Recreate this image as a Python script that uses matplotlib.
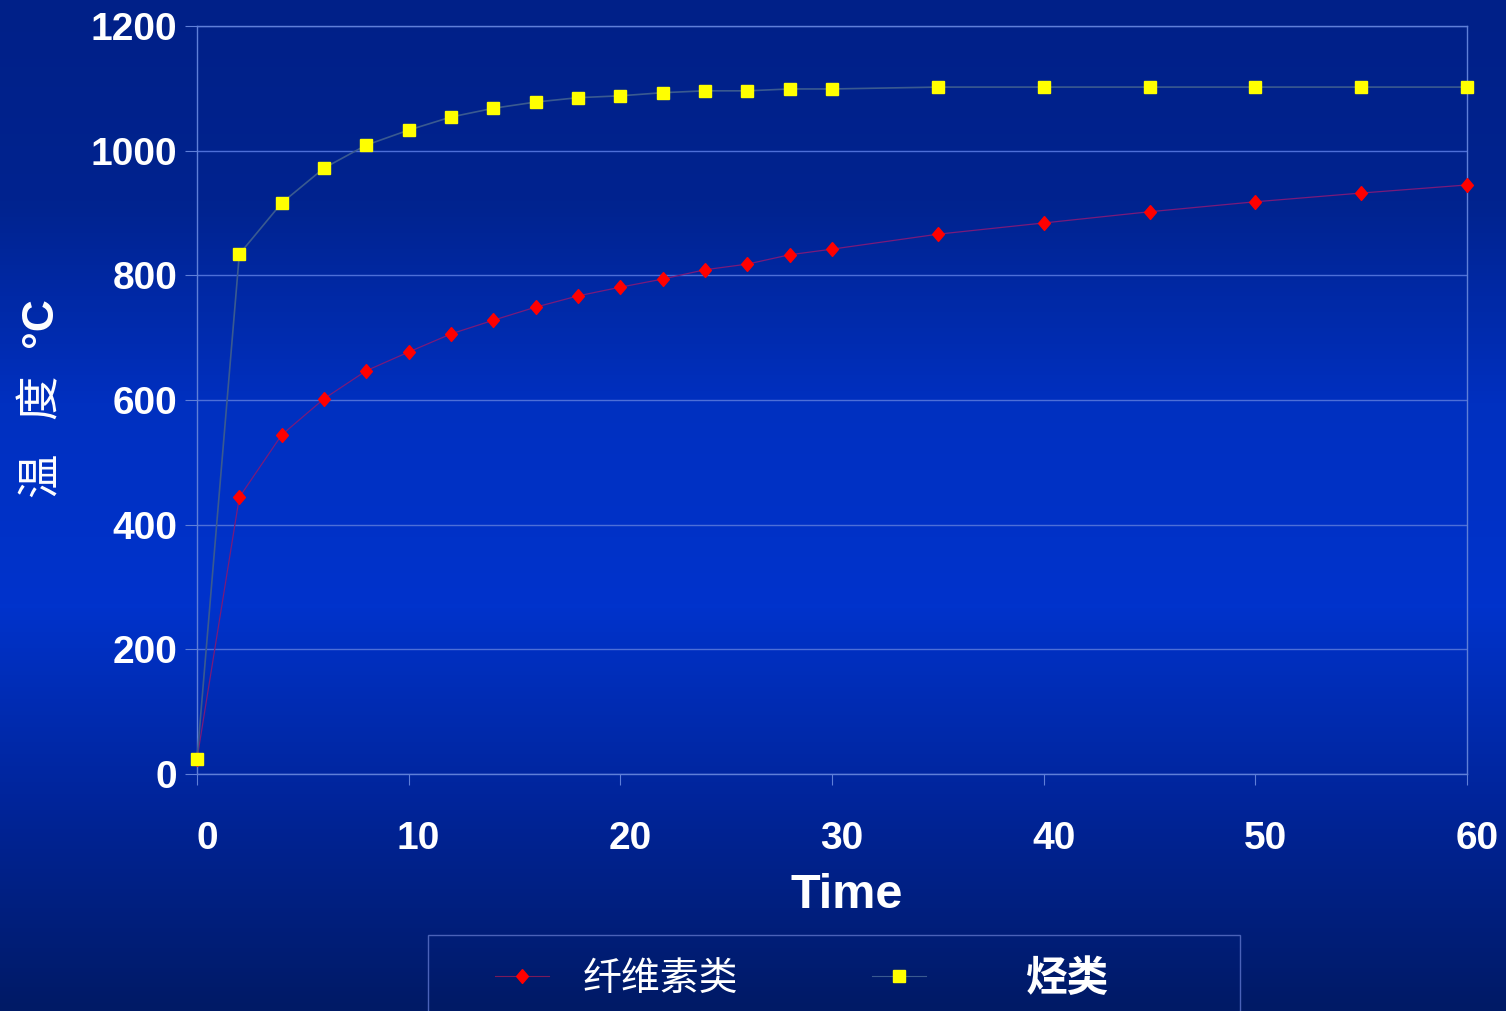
import matplotlib
matplotlib.use('Agg')
import matplotlib.pyplot as plt
import matplotlib.transforms as mtransforms
import numpy as np
from matplotlib.colors import LinearSegmentedColormap
from matplotlib.lines import Line2D
from matplotlib.patches import Rectangle

plt.rcParams['font.family'] = ['Liberation Sans', 'Noto Sans CJK SC', 'DejaVu Sans']

# 数据
time = [0, 2, 4, 6, 8, 10, 12, 14, 16, 18, 20, 22, 24, 26, 28, 30, 35, 40, 45, 50, 55, 60]
cellulose = [24, 444, 544, 602, 647, 677, 706, 728, 749, 767, 781, 794, 809, 818, 833, 842,
             866, 884, 902, 918, 932, 945]
hydrocarbon = [24, 834, 916, 972, 1009, 1033, 1054, 1068, 1078, 1085, 1088, 1093, 1096, 1096,
               1099, 1099, 1102, 1102, 1102, 1102, 1102, 1102]
labels = ['纤维素类', '烃类']
xticks = [0, 10, 20, 30, 40, 50, 60]
yticks = [0, 200, 400, 600, 800, 1000, 1200]

W, H = 1506, 1011
fig = plt.figure(figsize=(W / 100, H / 100), dpi=100)

# 背景渐变
bg = fig.add_axes([0, 0, 1, 1], zorder=-10)
cmap = LinearSegmentedColormap.from_list('bg', ['#001a66', '#002498', '#0033cc', '#0030c0', '#00238f', '#002088'])
grad = np.linspace(0, 1, 256).reshape(-1, 1)
bg.imshow(grad, aspect='auto', cmap=cmap, extent=[0, 1, 0, 1], origin='lower')
bg.axis('off')

ax = fig.add_axes([197 / W, 1 - 774 / H, 1270 / W, 748 / H])
ax.patch.set_alpha(0)

diamond = [(0, 1), (0.85, 0), (0, -1), (-0.85, 0), (0, 1)]
ax.plot(time, cellulose, color='#7a1a7a', linewidth=0.9, marker=diamond, markersize=10,
        markerfacecolor='red', markeredgecolor='red', zorder=3, clip_on=False)
ax.plot(time, hydrocarbon, color='#3a5a90', linewidth=1.2, marker='s', markersize=8,
        markerfacecolor='yellow', markeredgecolor='yellow', zorder=4, clip_on=False)

ax.set_xlim(0, 60)
ax.set_ylim(0, 1200)
ax.set_xticks(xticks)
ax.set_yticks(yticks)
ax.grid(axis='y', color='#4d6fd8', linewidth=1)
for s in ax.spines.values():
    s.set_color('#5f7fd8')
    s.set_linewidth(1)

ax.tick_params(axis='x', colors='#5f7fd8', length=8, direction='out', pad=26)
ax.tick_params(axis='y', colors='#5f7fd8', length=9, direction='out', pad=5)
for lab in ax.get_xticklabels() + ax.get_yticklabels():
    lab.set_color('white')
    lab.set_fontsize(28)
    lab.set_fontweight('bold')

# x刻度标签稍向右偏
offset = mtransforms.ScaledTranslation(10 / 100, 0, fig.dpi_scale_trans)
for lab in ax.get_xticklabels():
    lab.set_transform(lab.get_transform() + offset)

fig.text(847 / W, 1 - 896 / H, 'Time', color='white', fontsize=35, fontweight='bold',
         ha='center', va='center')

# y轴标题
cjk = ['Noto Sans CJK SC', 'DejaVu Sans']
fig.text(40 / W, 1 - 475 / H, '温', rotation=90, color='white', fontsize=32,
         ha='center', va='center', family=cjk)
fig.text(40 / W, 1 - 397 / H, '度', rotation=90, color='white', fontsize=32,
         ha='center', va='center', family=cjk)
fig.text(40 / W, 1 - 322 / H, '°C', rotation=90, color='white', fontsize=32,
         fontweight='bold', ha='center', va='center')

# 图例
frame = Rectangle((428 / W, -0.05), 812 / W, 0.05 + (1 - 935 / H), transform=fig.transFigure,
                  facecolor='none', edgecolor='#4a62b8', linewidth=1)
fig.patches.append(frame)

h1 = Line2D([], [], color='#7a1a5a', linewidth=0.8, marker=diamond, markersize=10,
            markerfacecolor='red', markeredgecolor='red')
h2 = Line2D([], [], color='#3a5a90', linewidth=0.8, marker='s', markersize=8,
            markerfacecolor='yellow', markeredgecolor='yellow')
leg1 = fig.legend([h1], [labels[0]], loc='center left', bbox_to_anchor=(495 / W, 1 - 979 / H),
                  prop={'family': cjk, 'size': 28}, handlelength=1.4, handletextpad=0.85,
                  borderpad=0, borderaxespad=0, frameon=False)
leg2 = fig.legend([h2], [labels[1]], loc='center left', bbox_to_anchor=(872 / W, 1 - 979 / H),
                  prop={'family': cjk, 'size': 30, 'weight': 'bold'}, handlelength=1.3,
                  handletextpad=2.4, borderpad=0, borderaxespad=0, frameon=False)
for leg in (leg1, leg2):
    for t in leg.get_texts():
        t.set_color('white')

plt.savefig('out.png', dpi=100)
